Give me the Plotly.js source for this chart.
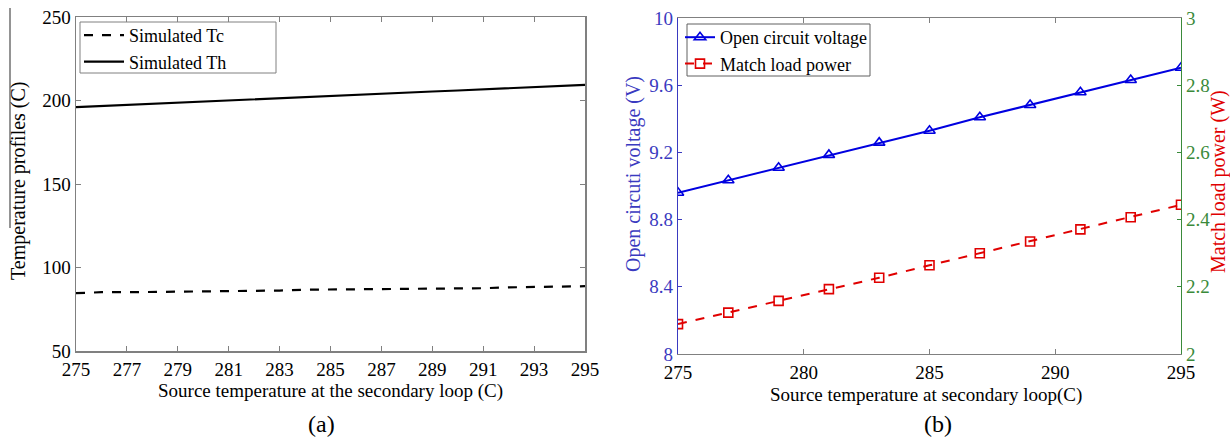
<!DOCTYPE html>
<html>
<head>
<meta charset="utf-8">
<script src="https://cdn.plot.ly/plotly-3.0.1.min.js"></script>
<style>html,body{margin:0;padding:0;background:#fff;}#chart{width:1230px;height:441px;}</style>
</head>
<body>
<div id="chart"></div>
<script>
// ---- Data (a) ----
const srcTempA = [275,276,277,278,279,280,281,282,283,284,285,286,287,288,289,290,291,292,293,294,295];
const simTc = [84.6,85.2,85.2,85.3,85.4,85.9,86.0,86.1,86.2,86.7,86.8,86.8,86.9,87.4,87.5,87.5,87.6,88.1,88.2,88.7,88.8];
const simTh = [196.0,196.7,197.3,198.0,198.7,199.3,200.0,200.7,201.3,202.0,202.7,203.3,204.0,204.7,205.4,206.0,206.7,207.4,208.0,208.7,209.4];
const ticksA = [275,277,279,281,283,285,287,289,291,293,295];

// ---- Data (b) ----
const srcTempB = [275,277,279,281,283,285,287,289,291,293,295];
const openVoltage = [8.96,9.034,9.109,9.185,9.258,9.329,9.409,9.482,9.558,9.631,9.704];
const matchPower = [2.089,2.123,2.158,2.193,2.227,2.264,2.300,2.335,2.371,2.407,2.444];
const ticksB = [275,280,285,290,295];

const FONT = "Liberation Serif, Times New Roman, serif";
const BLUE = "#0000e0", RED = "#e00000";
const AXBLUE = "#3a3ac0", AXGREEN = "#3a8a3a", GRAY = "#808080";
const FS = 19;

const traces = [
  {x: srcTempA, y: simTc, name: "Simulated Tc", mode: "lines", xaxis: "x", yaxis: "y",
   line: {color: "#000", width: 2.2, dash: "dash"}, legend: "legend"},
  {x: srcTempA, y: simTh, name: "Simulated Th", mode: "lines", xaxis: "x", yaxis: "y",
   line: {color: "#000", width: 2.2}, legend: "legend"},
  {x: srcTempB, y: openVoltage, name: "Open circuit voltage", mode: "lines+markers", xaxis: "x2", yaxis: "y2",
   line: {color: BLUE, width: 2}, marker: {symbol: "triangle-up-open", size: 10, color: BLUE, line: {width: 1.6}},
   legend: "legend2"},
  {x: srcTempB, y: matchPower, name: "Match load power", mode: "lines+markers", xaxis: "x2", yaxis: "y3",
   line: {color: RED, width: 2, dash: "dash"}, marker: {symbol: "square-open", size: 9, color: RED, line: {width: 1.6}},
   legend: "legend2"}
];

const tickFont = {family: FONT, size: FS, color: "#000"};
const P = (px) => px / 1230, Q = (py) => 1 - py / 441;
const layout = {
  width: 1230, height: 441,
  margin: {l: 0, r: 0, t: 0, b: 0},
  paper_bgcolor: "#fff", plot_bgcolor: "#fff",
  font: {family: FONT, size: FS, color: "#000"},
  xaxis: {domain: [P(76), P(585)], range: [275, 295], tickvals: ticksA, ticks: "inside", ticklen: 5,
    tickcolor: GRAY, showline: true, linecolor: GRAY, linewidth: 1.5, mirror: "ticks", showgrid: false, zeroline: false,
    tickfont: tickFont, anchor: "y", ticklabelstandoff: 1},
  yaxis: {domain: [Q(351), Q(17)], range: [50, 250], dtick: 50, ticks: "inside", ticklen: 5,
    tickcolor: GRAY, showline: true, linecolor: GRAY, linewidth: 1.5, mirror: "ticks", showgrid: false, zeroline: false,
    tickfont: tickFont, anchor: "x"},
  xaxis2: {domain: [P(678), P(1181)], range: [275, 295], tickvals: ticksB, ticks: "inside", ticklen: 5,
    tickcolor: GRAY, showline: true, linecolor: GRAY, linewidth: 1.2, mirror: "ticks", showgrid: false, zeroline: false,
    tickfont: tickFont, anchor: "y2", ticklabelstandoff: 1},
  yaxis2: {domain: [Q(354), Q(18)], range: [8, 10], dtick: 0.4, tickformat: "~g", ticks: "inside", ticklen: 4,
    tickcolor: AXBLUE, showline: true, linecolor: AXBLUE, linewidth: 1.2, showgrid: false, zeroline: false,
    tickfont: {family: FONT, size: FS, color: AXBLUE}, anchor: "x2"},
  yaxis3: {range: [2, 3], dtick: 0.2, tickformat: "~g", ticks: "inside", ticklen: 4, overlaying: "y2", side: "right",
    tickcolor: AXGREEN, showline: true, linecolor: AXGREEN, linewidth: 1.2, showgrid: false, zeroline: false,
    tickfont: {family: FONT, size: FS, color: AXGREEN}, anchor: "x2"},
  legend: {x: P(79), y: Q(17), xanchor: "left", yanchor: "top", bgcolor: "rgba(0,0,0,0)", borderwidth: 0,
    font: {family: FONT, size: 18, color: "#000"}, itemwidth: 40, tracegroupgap: 0},
  legend2: {x: P(680), y: Q(19), xanchor: "left", yanchor: "top", bgcolor: "rgba(0,0,0,0)", borderwidth: 0,
    font: {family: FONT, size: 18, color: "#000"}, itemwidth: 30, tracegroupgap: 0},
  shapes: [
    {type: "line", xref: "paper", yref: "paper", x0: P(10), x1: P(10), y0: Q(8), y1: Q(228),
     line: {color: "#707070", width: 1.5}},
    {type: "rect", xref: "paper", yref: "paper", x0: P(80), x1: P(276), y0: Q(22), y1: Q(73),
     fillcolor: "#fff", line: {color: GRAY, width: 1}, layer: "above"},
    {type: "rect", xref: "paper", yref: "paper", x0: P(687), x1: P(870), y0: Q(24), y1: Q(76),
     fillcolor: "#fff", line: {color: "#606060", width: 1}, layer: "above"}
  ],
  annotations: [
    {text: "Temperature profiles (C)", xref: "paper", yref: "paper", x: P(19), y: Q(181), textangle: -90,
     showarrow: false, font: {family: FONT, size: 20, color: "#000"}, xanchor: "center", yanchor: "middle"},
    {text: "Source temperature at the secondary loop (C)", xref: "paper", yref: "paper", x: P(330), y: Q(391),
     showarrow: false, font: {family: FONT, size: FS, color: "#000"}, xanchor: "center", yanchor: "middle"},
    {text: "(a)", xref: "paper", yref: "paper", x: P(321), y: Q(424),
     showarrow: false, font: {family: FONT, size: 24, color: "#000"}, xanchor: "center", yanchor: "middle"},
    {text: "Open circuti voltage (V)", xref: "paper", yref: "paper", x: P(633), y: Q(174), textangle: -90,
     showarrow: false, font: {family: FONT, size: 20, color: AXBLUE}, xanchor: "center", yanchor: "middle"},
    {text: "Match load power (W)", xref: "paper", yref: "paper", x: P(1218), y: Q(182), textangle: -90,
     showarrow: false, font: {family: FONT, size: 20, color: RED}, xanchor: "center", yanchor: "middle"},
    {text: "Source temperature at secondary loop(C)", xref: "paper", yref: "paper", x: P(926), y: Q(395),
     showarrow: false, font: {family: FONT, size: FS, color: "#000"}, xanchor: "center", yanchor: "middle"},
    {text: "(b)", xref: "paper", yref: "paper", x: P(938), y: Q(424),
     showarrow: false, font: {family: FONT, size: 24, color: "#000"}, xanchor: "center", yanchor: "middle"}
  ]
};

Plotly.newPlot("chart", traces, layout, {displayModeBar: false, staticPlot: true});
</script>
</body>
</html>
